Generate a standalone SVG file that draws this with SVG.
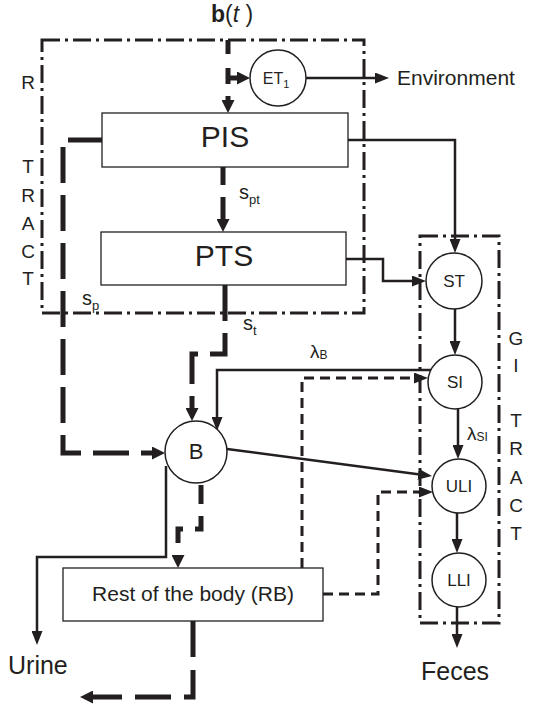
<svg xmlns="http://www.w3.org/2000/svg" width="533" height="708" viewBox="0 0 533 708">
<style>
text{font-family:"Liberation Sans",Arial,sans-serif;fill:#231f20}
.box{fill:none;stroke:#231f20;stroke-width:3;stroke-dasharray:18 5 3 5}
.rect{fill:#fff;stroke:#231f20;stroke-width:1.3}
.circ{fill:#fff;stroke:#231f20;stroke-width:1.5}
.thick{fill:none;stroke:#231f20;stroke-width:5}
.thin{fill:none;stroke:#231f20;stroke-width:2.5}
.tdash{fill:none;stroke:#231f20;stroke-width:3;stroke-dasharray:10 6}
.lbl{font-size:19px;text-anchor:middle}
.cl{font-size:17px;text-anchor:middle}
</style>
<defs>
<marker id="at" markerUnits="userSpaceOnUse" markerWidth="13" markerHeight="13" viewBox="0 0 13 13" refX="0" refY="6.5" orient="auto"><path d="M0,0L13,6.5L0,13Z" fill="#231f20"/></marker>
<marker id="as" markerUnits="userSpaceOnUse" markerWidth="14" markerHeight="11" viewBox="0 0 14 11" refX="0" refY="5.5" orient="auto"><path d="M0,0L14,5.5L0,11Z" fill="#231f20"/></marker>
</defs>
<g id="respiratory-tract">
<rect class="box" x="42" y="40" width="322" height="273"/>
<text class="lbl" x="28" y="89">R</text>
<text class="lbl" x="28" y="173">T</text>
<text class="lbl" x="28" y="202">R</text>
<text class="lbl" x="28" y="230">A</text>
<text class="lbl" x="28" y="258">C</text>
<text class="lbl" x="28" y="285">T</text>
</g>
<g id="gi-tract">
<rect class="box" x="420" y="236" width="79" height="387"/>
<text class="lbl" x="516" y="345">G</text>
<text class="lbl" x="516" y="372">I</text>
<text class="lbl" x="516" y="427">T</text>
<text class="lbl" x="516" y="455">R</text>
<text class="lbl" x="516" y="484">A</text>
<text class="lbl" x="516" y="512">C</text>
<text class="lbl" x="516" y="540">T</text>
</g>
<g id="connectors">
<path class="thick" d="M228,40V100" style="stroke-dasharray:14 14 16 12 10" marker-end="url(#at)"/>
<path class="thick" d="M226,78H237" marker-end="url(#at)"/>
<path class="thin" d="M306,78H375" marker-end="url(#as)"/>
<path class="thick" d="M102,140H63V453H152" style="stroke-dasharray:36 12;stroke-dashoffset:2" marker-end="url(#at)"/>
<path class="thin" d="M348,140H455V239" marker-end="url(#as)"/>
<path class="thick" d="M223,167V219" style="stroke-dasharray:18 12 30" marker-end="url(#at)"/>
<path class="thin" d="M346,259H383V281H412" marker-end="url(#as)"/>
<path class="thick" d="M225,285V354H192V408" style="stroke-dasharray:36 12" marker-end="url(#at)"/>
<path class="thin" d="M455,309V341" marker-end="url(#as)"/>
<path class="thin" d="M431,370H217V417" marker-end="url(#as)"/>
<path class="tdash" d="M302,568V378H414" marker-end="url(#as)"/>
<path class="thin" d="M227,449L418.1,474.2" marker-end="url(#as)"/>
<path class="thin" d="M458,409V445" marker-end="url(#as)"/>
<path class="tdash" d="M323,594H378V492H419" marker-end="url(#as)"/>
<path class="thin" d="M457,513V539" marker-end="url(#as)"/>
<path class="thin" d="M457,607V634" marker-end="url(#as)"/>
<path class="thin" d="M166,466V557H37V631" marker-end="url(#as)"/>
<path class="thick" d="M201,485V529H178V555" style="stroke-dasharray:19 12" marker-end="url(#at)"/>
<path class="thick" d="M193,621V697H93" style="stroke-dasharray:36 13" marker-end="url(#at)"/>
</g>
<g id="labels">
<text x="232" y="22" font-size="23" text-anchor="middle"><tspan font-weight="bold">b</tspan>(<tspan font-style="italic">t</tspan> )</text>
<text x="397" y="85" font-size="21">Environment</text>
<text x="239" y="199" font-size="20">s<tspan font-size="13" dy="5">pt</tspan></text>
<text x="82" y="305" font-size="20">s<tspan font-size="13" dy="5">p</tspan></text>
<text x="243" y="330" font-size="20">s<tspan font-size="13" dy="5">t</tspan></text>
<text x="310" y="358" font-size="19">λ<tspan font-size="12" dy="1">B</tspan></text>
<text x="467" y="440" font-size="19">λ<tspan font-size="12" dy="1">SI</tspan></text>
<text x="8" y="674" font-size="25">Urine</text>
<text x="455" y="680" font-size="25" text-anchor="middle">Feces</text>
</g>
<g id="ET1">
<circle class="circ" cx="278" cy="78" r="28"/>
<text x="276" y="84" font-size="16" text-anchor="middle">ET<tspan font-size="11" dy="4">1</tspan></text>
</g>
<g id="PIS">
<rect class="rect" x="102" y="113" width="246" height="54"/>
<text x="225" y="147" font-size="30" text-anchor="middle">PIS</text>
</g>
<g id="PTS">
<rect class="rect" x="101" y="232" width="245" height="53"/>
<text x="224" y="266" font-size="30" text-anchor="middle">PTS</text>
</g>
<g id="ST">
<circle class="circ" cx="454" cy="281" r="28"/>
<text class="cl" x="454" y="287">ST</text>
</g>
<g id="SI">
<circle class="circ" cx="455" cy="382" r="27"/>
<text class="cl" x="455" y="388">SI</text>
</g>
<g id="ULI">
<circle class="circ" cx="459" cy="486" r="27"/>
<text class="cl" x="459" y="492">ULI</text>
</g>
<g id="LLI">
<circle class="circ" cx="459" cy="580" r="27"/>
<text class="cl" x="459" y="586">LLI</text>
</g>
<g id="B">
<circle class="circ" cx="196" cy="452" r="31"/>
<text x="196" y="459" font-size="22" text-anchor="middle">B</text>
</g>
<g id="RB">
<rect class="rect" x="63" y="568" width="260" height="53"/>
<text x="193" y="601" font-size="21" text-anchor="middle">Rest of the body (RB)</text>
</g>
</svg>
